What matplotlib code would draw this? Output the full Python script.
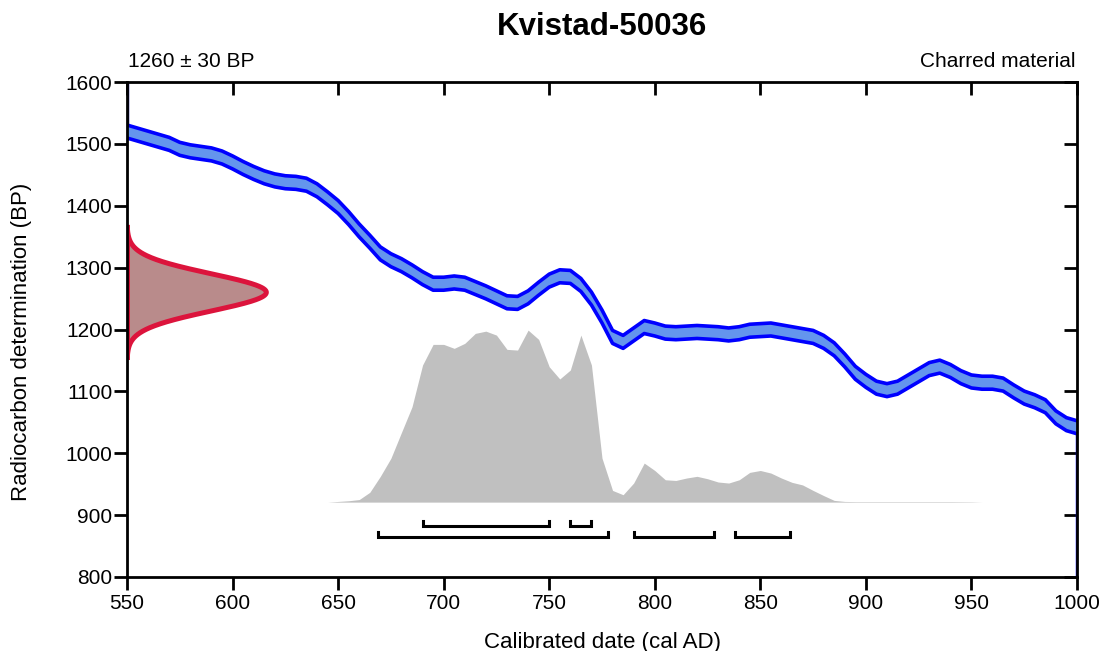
import numpy as np
import matplotlib
matplotlib.use("Agg")
import matplotlib.pyplot as plt
from matplotlib import lines as mlines

plt.rcParams['font.family'] = ['Liberation Sans', 'DejaVu Sans']

# ---- Sample and measurement ----
sample_name = "Kvistad-50036"
measured_bp = 1260
measured_err = 30
material = "Charred material"

# ---- Calibration curve (cal AD -> radiocarbon BP) ----
curve_years = [550, 560, 570, 575, 580, 590, 595, 600, 605, 610, 615, 620, 625,
               630, 635, 640, 645, 650, 655, 660, 665, 670, 675, 680, 685, 690,
               695, 700, 705, 710, 715, 720, 725, 730, 735, 740, 745, 750, 755,
               760, 765, 770, 775, 780, 785, 790, 795, 800, 805, 810, 815, 820,
               825, 830, 835, 840, 845, 850, 855, 860, 865, 870, 875, 880, 885,
               890, 895, 900, 905, 910, 915, 920, 925, 930, 935, 940, 945, 950,
               955, 960, 965, 970, 975, 980, 985, 990, 995, 1000]
curve_bp = [1520, 1510, 1500, 1492, 1488, 1483, 1478, 1470, 1461, 1453, 1446, 1441,
            1438, 1437, 1434, 1425, 1412, 1398, 1380, 1360, 1342, 1323, 1312, 1304,
            1294, 1283, 1274, 1274, 1276, 1274, 1267, 1260, 1252, 1244, 1243, 1252,
            1266, 1279, 1286, 1285, 1272, 1250, 1221, 1188, 1180, 1192, 1204, 1200,
            1195, 1194, 1195, 1196, 1195, 1194, 1192, 1194, 1198, 1199, 1200, 1197,
            1194, 1191, 1188, 1180, 1168, 1150, 1130, 1117, 1106, 1102, 1106, 1116,
            1126, 1136, 1140, 1133, 1123, 1116, 1114, 1114, 1111, 1100, 1090, 1084,
            1076, 1058, 1047, 1042]
curve_sigma = 10.5

# ---- Calibrated probability (relative) ----
prob_years = [645, 650, 655, 660, 665, 670, 675, 680, 685, 690, 695, 700, 705, 710,
              715, 720, 725, 730, 735, 740, 745, 750, 755, 760, 765, 770, 775, 780,
              785, 790, 795, 800, 805, 810, 815, 820, 825, 830, 835, 840, 845, 850,
              855, 860, 865, 870, 875, 880, 885, 890, 895, 900, 910, 920, 930, 940,
              950, 955]
prob_density = [0.0, 0.004, 0.008, 0.015, 0.057, 0.150, 0.255, 0.405, 0.554, 0.797,
                0.917, 0.917, 0.894, 0.923, 0.981, 0.994, 0.971, 0.888, 0.884, 1.000,
                0.946, 0.787, 0.716, 0.768, 0.971, 0.797, 0.256, 0.068, 0.043, 0.111,
                0.227, 0.184, 0.130, 0.126, 0.140, 0.150, 0.136, 0.117, 0.111, 0.130,
                0.173, 0.184, 0.169, 0.140, 0.115, 0.100, 0.068, 0.038, 0.010, 0.004,
                0.003, 0.003, 0.003, 0.003, 0.003, 0.003, 0.002, 0.0]

# ---- Highest posterior density ranges ----
range_68 = [(690, 750), (760, 770)]
range_95 = [(669, 778), (790, 828), (838, 864)]

x_ticks = [550, 600, 650, 700, 750, 800, 850, 900, 950, 1000]
y_ticks = [800, 900, 1000, 1100, 1200, 1300, 1400, 1500, 1600]

# ---- Figure ----
fig = plt.figure(figsize=(11.02, 6.51), dpi=100)
ax = fig.add_axes([127 / 1102, 1 - 577 / 651, 950 / 1102, 495 / 651])
ax.set_xlim(550, 1000)
ax.set_ylim(800, 1600)

# measured radiocarbon age as a normal distribution on the y axis
bp = np.linspace(measured_bp - 3.5 * measured_err, measured_bp + 3.5 * measured_err, 400)
dens = np.exp(-0.5 * ((bp - measured_bp) / measured_err) ** 2)
red_width = 66.0
ax.fill_betweenx(bp, 550, 550 + red_width * dens, color='#b98b8b', lw=0, zorder=2)
ax.plot(550 + red_width * dens, bp, color='#dc143c', lw=3.6, zorder=3,
        solid_joinstyle='round')
ax.plot([550, 550], [bp[0], bp[-1]], color='#dc143c', lw=3.6, zorder=3)

# calibrated distribution on the x axis
base_bp = 921
peak_height = 278
py = np.array(prob_years, dtype=float)
pd_ = np.array(prob_density)
ax.fill_between(py, base_bp, base_bp + peak_height * pd_, color='#c0c0c0', lw=0, zorder=2)

# calibration curve band
cy = np.array(curve_years, dtype=float)
cb = np.array(curve_bp, dtype=float)
ax.fill_between(cy, cb - curve_sigma, cb + curve_sigma, color='#6495ed', lw=0, zorder=4)
ax.plot(cy, cb + curve_sigma, color='#0000ff', lw=2.6, zorder=5)
ax.plot(cy, cb - curve_sigma, color='#0000ff', lw=2.6, zorder=5)
ax.plot([550, 550], [cb[0] + curve_sigma, 1600], color='#00007a', lw=2.5, zorder=5)
ax.plot([1000, 1000], [800, cb[-1] - curve_sigma], color='#0000ff', lw=2.5, zorder=5)


def bracket(a, b, y, h=7):
    """Range bar with small upturned end hooks."""
    ax.plot([a, a, b, b], [y + h, y, y, y + h], color='black', lw=2.2,
            solid_joinstyle='miter', zorder=6)


for a, b in range_68:
    bracket(a, b, 883)
for a, b in range_95:
    bracket(a, b, 865)

# axes styling
for s in ax.spines.values():
    s.set_linewidth(2.0)
    s.set_zorder(7)
ax.set_xticks(x_ticks)
ax.set_yticks(y_ticks)
ax.tick_params(axis='both', which='major', labelsize=15, width=2.0, length=9.4,
               color='black', direction='out')
ax.tick_params(axis='x', pad=3, top=True)
ax.tick_params(axis='y', pad=1, right=True)
# top and right ticks point inward
for line in ax.xaxis.get_majorticklines()[1::2]:
    line.set_marker(mlines.TICKDOWN)
for line in ax.yaxis.get_majorticklines()[1::2]:
    line.set_marker(mlines.TICKLEFT)

# text
fig.text(602 / 1102, 1 - 35 / 651, sample_name, ha='center', va='baseline',
         fontsize=22.5, fontweight='bold')
fig.text(128 / 1102, 1 - 67 / 651, f"{measured_bp} \u00b1 {measured_err} BP",
         ha='left', va='baseline', fontsize=15)
fig.text(1076 / 1102, 1 - 67 / 651, material, ha='right', va='baseline', fontsize=15)
fig.text(22 / 1102, 1 - 342 / 651, "Radiocarbon determination (BP)", rotation=90,
         ha='center', va='center', fontsize=16)
fig.text(602 / 1102, 1 - 648 / 651, "Calibrated date (cal AD)", ha='center',
         va='baseline', fontsize=16)

fig.savefig("out.png", dpi=100)
